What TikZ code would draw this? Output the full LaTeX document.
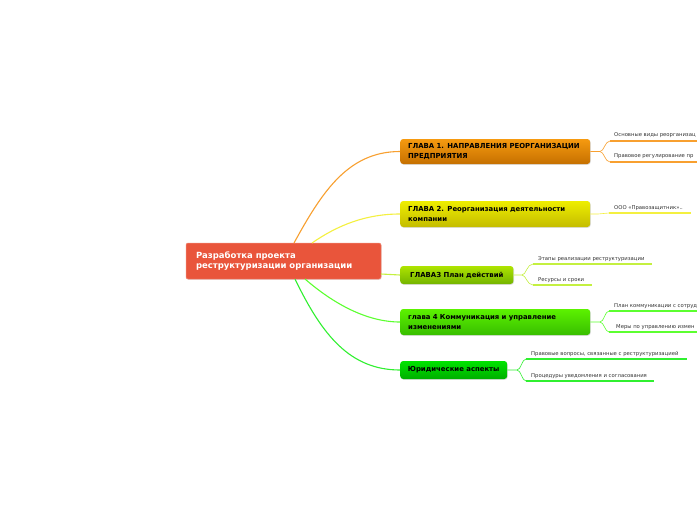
\documentclass[tikz,border=0pt]{standalone}
\usepackage{fontspec}
\setmainfont{DejaVu Sans}
\usetikzlibrary{shadows}
\definecolor{cen}{HTML}{E9553B}
\definecolor{oT}{HTML}{F69A10}\definecolor{oB}{HTML}{C57000}\definecolor{oL}{HTML}{F8A030}
\definecolor{yT}{HTML}{EEEE00}\definecolor{yB}{HTML}{C4BC00}\definecolor{yL}{HTML}{F4F040}
\definecolor{gT}{HTML}{AEE400}\definecolor{gB}{HTML}{74B400}\definecolor{gL}{HTML}{C4F040}
\definecolor{hT}{HTML}{5CF200}\definecolor{hB}{HTML}{38BE00}\definecolor{hL}{HTML}{5CFF30}
\definecolor{kT}{HTML}{00E400}\definecolor{kB}{HTML}{00AE00}\definecolor{kL}{HTML}{30F030}
\definecolor{leaftxt}{HTML}{333333}
\begin{document}
\begin{tikzpicture}[x=1pt,y=-1pt,
  chap/.style={rounded corners=3pt, inner xsep=8pt, inner ysep=2pt, align=left,
    font=\fontsize{6.9}{9.6}\selectfont\bfseries, text=black, anchor=west,
    drop shadow={shadow xshift=0.6pt, shadow yshift=-0.8pt, opacity=0.25}},
  leaf/.style={font=\fontsize{5.3}{6}\selectfont, text=leaftxt, inner sep=0pt, anchor=base west},
  uline/.style={line width=2.4pt},
  conn/.style={line width=1.1pt},
  sub/.style={line width=0.6pt}]
\useasboundingbox (0,0) rectangle (697,520);
\fill[white] (0,0) rectangle (697,520);

% central node
\node[rounded corners=2pt, fill=cen, draw=cen!70!white, line width=0.5pt,
  minimum width=195pt, minimum height=36pt, text width=175pt, inner xsep=10pt,
  align=left, text=white, font=\fontsize{8.5}{10.8}\selectfont\bfseries,
  drop shadow={shadow xshift=0.6pt, shadow yshift=-0.8pt, opacity=0.2}]
  (root) at (283.5,261) {Разработка проекта\\реструктуризации организации};

% chapters
\node[chap, top color=oT, bottom color=oB, minimum width=190pt, minimum height=25pt, text width=174pt]
  (c1) at (400,151.5) {ГЛАВА 1. НАПРАВЛЕНИЯ РЕОРГАНИЗАЦИИ\\ПРЕДПРИЯТИЯ};
\node[chap, top color=yT, bottom color=yB, minimum width=190pt, minimum height=26pt, text width=174pt]
  (c2) at (400,214) {ГЛАВА 2. Реорганизация деятельности\\компании};
\node[chap, top color=gT, bottom color=gB, minimum width=113pt, minimum height=18pt, align=center, inner xsep=10pt]
  (c3) at (400,275) {ГЛАВАЗ План действий};
\node[chap, top color=hT, bottom color=hB, minimum width=190pt, minimum height=26pt, text width=174pt]
  (c4) at (400,322) {глава 4 Коммуникация и управление\\изменениями};
\node[chap, top color=kT, bottom color=kB, minimum width=107pt, minimum height=18pt, align=center, inner xsep=7pt]
  (c5) at (400,370) {Юридические аспекты};

% root connectors
\coordinate (r1) at (294,243);
\coordinate (r2) at (312,243);
\coordinate (r3) at (381,274);
\coordinate (r4) at (305,279);
\coordinate (r5) at (295,279);
\draw[conn, oL] (r1) .. controls (322,192) and (348,151.5) .. (c1.west);
\draw[conn, yL] (r2) .. controls (338,225) and (366,214) .. (c2.west);
\draw[conn, gL] (r3) -- (c3.west);
\draw[conn, hL] (r4) .. controls (335,305) and (368,322) .. (c4.west);
\draw[conn, kL] (r5) .. controls (322,335) and (350,370) .. (c5.west);

% fork points and leaf starts
\coordinate (f1) at (600,151.5);
\coordinate (a1) at (610,141); \coordinate (b1) at (610,162);
\coordinate (f2) at (598,214);
\coordinate (a2) at (609,213);
\coordinate (f3) at (522,275);
\coordinate (a3) at (533,264); \coordinate (b3) at (533,285);
\coordinate (f4) at (600,322);
\coordinate (a4) at (609,311); \coordinate (b4) at (609,332);
\coordinate (f5) at (517,370);
\coordinate (a5) at (526,359); \coordinate (b5) at (526,381);

% branch 1
\draw[sub, oL] (c1.east) -- (f1) .. controls (604,151.5) and (605,141) .. (a1);
\draw[sub, oL] (f1) .. controls (604,151.5) and (605,162) .. (b1);
\draw[uline, oL] (a1) -- (700,141);
\draw[uline, oL] (b1) -- (700,162);
\node[leaf] (t1a) at (614,136) {Основные виды реорганизац};
\node[leaf] (t1b) at (614,157.5) {Правовое регулирование пр};

% branch 2
\draw[sub, yL] (c2.east) -- (f2) .. controls (603,214) and (604,213) .. (a2);
\draw[uline, yL] (a2) -- (691,213);
\node[leaf] (t2a) at (614,209) {ООО «Правозащитник»..};

% branch 3
\draw[sub, gL] (c3.east) -- (f3) .. controls (526,275) and (527,264) .. (a3);
\draw[sub, gL] (f3) .. controls (526,275) and (527,285) .. (b3);
\draw[uline, gL] (a3) -- (652,264);
\draw[uline, gL] (b3) -- (592,285);
\node[leaf] (t3a) at (538,260) {Этапы реализации реструктуризации};
\node[leaf] (t3b) at (538,281) {Ресурсы и сроки};

% branch 4
\draw[sub, hL] (c4.east) -- (f4) .. controls (604,322) and (605,311) .. (a4);
\draw[sub, hL] (f4) .. controls (604,322) and (605,332) .. (b4);
\draw[uline, hL] (a4) -- (700,311);
\draw[uline, hL] (b4) -- (700,332);
\node[leaf] (t4a) at (614,307) {План коммуникации с сотруд};
\node[leaf] (t4b) at (616,328) {Меры по управлению измен};

% branch 5
\draw[sub, kL] (c5.east) -- (f5) .. controls (521,370) and (522,359) .. (a5);
\draw[sub, kL] (f5) .. controls (521,370) and (522,381) .. (b5);
\draw[uline, kL] (a5) -- (687,359);
\draw[uline, kL] (b5) -- (654,381);
\node[leaf] (t5a) at (531,355) {Правовые вопросы, связанные с реструктуризацией};
\node[leaf] (t5b) at (531,377) {Процедуры уведомления и согласования};
\end{tikzpicture}
\end{document}
